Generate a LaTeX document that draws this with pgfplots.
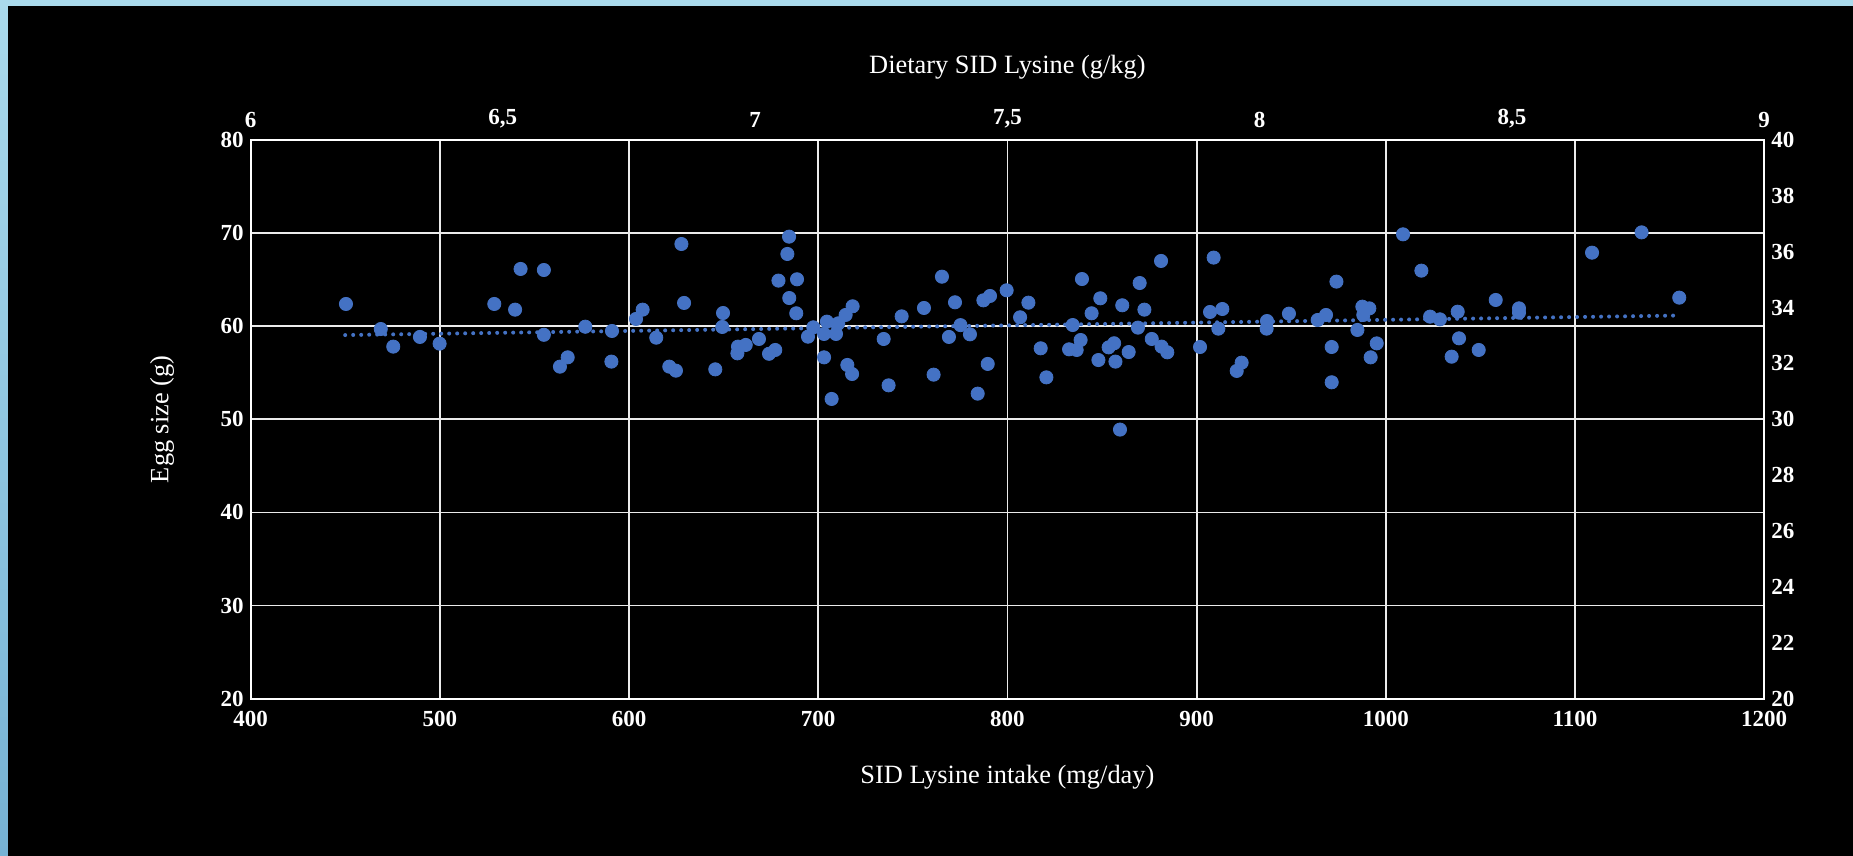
\documentclass[border=0pt]{standalone}
\usepackage{pgfplots}
\pgfplotsset{compat=1.18}
\usepackage{fontspec}
\setmainfont{Liberation Serif}
\definecolor{ptblue}{RGB}{68,114,196}
\definecolor{bordertop}{RGB}{170,218,236}
\definecolor{borderbot}{RGB}{118,178,212}
\definecolor{gridc}{RGB}{235,235,235}

\pgfplotstableread{
x y
450.4 62.39
468.8 59.70
475.4 57.81
489.5 58.85
499.9 58.13
528.8 62.39
539.8 61.78
542.7 66.15
555.0 66.04
555.0 59.08
563.5 55.66
567.6 56.66
576.9 59.95
590.7 56.20
591.0 59.49
603.7 60.78
607.2 61.78
614.4 58.77
621.3 55.66
624.8 55.23
627.7 68.83
629.1 62.50
645.6 55.37
649.3 59.92
649.7 61.42
657.3 57.09
657.6 57.81
661.7 57.99
668.7 58.63
674.0 57.04
677.3 57.45
679.0 64.90
683.7 67.76
684.6 69.62
684.7 63.03
688.4 61.39
688.8 65.04
694.6 58.88
697.4 59.88
703.1 59.17
703.1 56.66
704.6 60.49
707.1 52.19
709.4 59.17
710.6 60.31
714.5 61.21
715.4 55.84
717.9 54.87
718.2 62.14
734.6 58.63
737.2 53.65
744.1 61.06
755.9 61.96
761.0 54.80
765.4 65.32
769.1 58.85
772.3 62.57
775.2 60.12
780.2 59.13
784.3 52.76
787.3 62.78
789.6 55.95
790.8 63.25
799.6 63.86
806.7 60.96
811.1 62.53
817.6 57.63
820.6 54.51
832.6 57.52
834.5 60.13
836.6 57.45
838.7 58.52
839.4 65.07
844.5 61.39
848.1 56.37
849.1 63.00
853.5 57.73
856.4 58.17
857.1 56.20
859.5 48.90
860.7 62.25
864.1 57.23
869.0 59.85
869.9 64.64
872.4 61.78
876.3 58.63
881.2 67.01
881.5 57.81
884.5 57.20
901.8 57.77
907.1 61.53
909.0 67.37
911.5 59.74
913.6 61.85
921.2 55.20
923.8 56.09
937.0 59.74
937.2 60.56
948.8 61.35
964.0 60.67
968.4 61.21
971.4 57.77
971.4 53.98
973.9 64.79
985.0 59.60
987.6 62.10
988.1 61.21
991.3 61.92
992.0 56.66
995.2 58.16
1009.1 69.87
1018.8 65.97
1023.4 61.03
1028.6 60.74
1034.8 56.73
1038.0 61.56
1038.7 58.70
1049.1 57.45
1058.1 62.82
1070.4 61.92
1070.4 61.46
1109.0 67.90
1135.2 70.08
1155.1 63.07
}\eggdata

\begin{document}
\begin{tikzpicture}
\fill[bordertop] (0pt,0pt) rectangle (926.5pt,428pt);
\shade[top color=bordertop, bottom color=borderbot] (0pt,0pt) rectangle (4pt,428pt);
\fill[black] (4pt,0pt) rectangle (926.5pt,425pt);

\begin{axis}[
  at={(125.3pt,78.65pt)}, anchor=south west,
  scale only axis, width=756.8pt, height=279.35pt,
  xmin=400, xmax=1200, ymin=20, ymax=80,
  xtick={400,500,600,700,800,900,1000,1100,1200},
  ytick={20,30,40,50,60,70,80},
  xtick pos=bottom, ytick pos=left,
  grid=major,
  major grid style={gridc, line width=0.9pt},
  axis line style={white, line width=0.9pt},
  major tick length=0pt,
  tick label style={white, font=\fontsize{11.5}{13}\selectfont\bfseries},
  /pgf/number format/assume math mode=true,
  /pgf/number format/1000 sep={},
  xticklabel shift=2.5pt,
  xlabel={SID Lysine intake (mg/day)},
  ylabel={Egg size (g)},
  label style={white, font=\fontsize{13.2}{15}\selectfont},
  xlabel style={at={(axis description cs:0.5,-0.1512)}, anchor=base},
  ylabel style={at={(axis description cs:-0.0585,0.5)}, anchor=center},
]
\addplot[only marks, mark=*, mark size=3.3pt, mark options={draw=ptblue, fill=ptblue}] table[x=x, y=y] {\eggdata};
\addplot[ptblue, line width=2pt, line cap=round, dash pattern=on 0pt off 4pt] coordinates {(450,59.05) (1155,61.15)};
\end{axis}

\begin{axis}[
  at={(125.3pt,78.65pt)}, anchor=south west,
  scale only axis, width=756.8pt, height=279.35pt,
  xmin=6, xmax=9, ymin=20, ymax=40,
  axis x line*=top, axis y line*=right,
  xtick={6,6.5,7,7.5,8,8.5,9},
  ytick={20,22,24,26,28,30,32,34,36,38,40},
  axis line style={white, line width=0.9pt},
  major tick length=0pt,
  tick label style={white, font=\fontsize{11.5}{13}\selectfont\bfseries},
  /pgf/number format/assume math mode=true,
  /pgf/number format/use comma,
  xticklabel shift=2.5pt,
  xlabel={Dietary SID Lysine (g/kg)},
  label style={white, font=\fontsize{13.2}{15}\selectfont},
  xlabel style={at={(axis description cs:0.5,1.1199)}, anchor=base},
]
\addplot[draw=none, forget plot] coordinates {(6,20) (9,40)};
\end{axis}

\pgfresetboundingbox
\path[use as bounding box] (0pt,0pt) rectangle (926.5pt,428pt);
\end{tikzpicture}
\end{document}
